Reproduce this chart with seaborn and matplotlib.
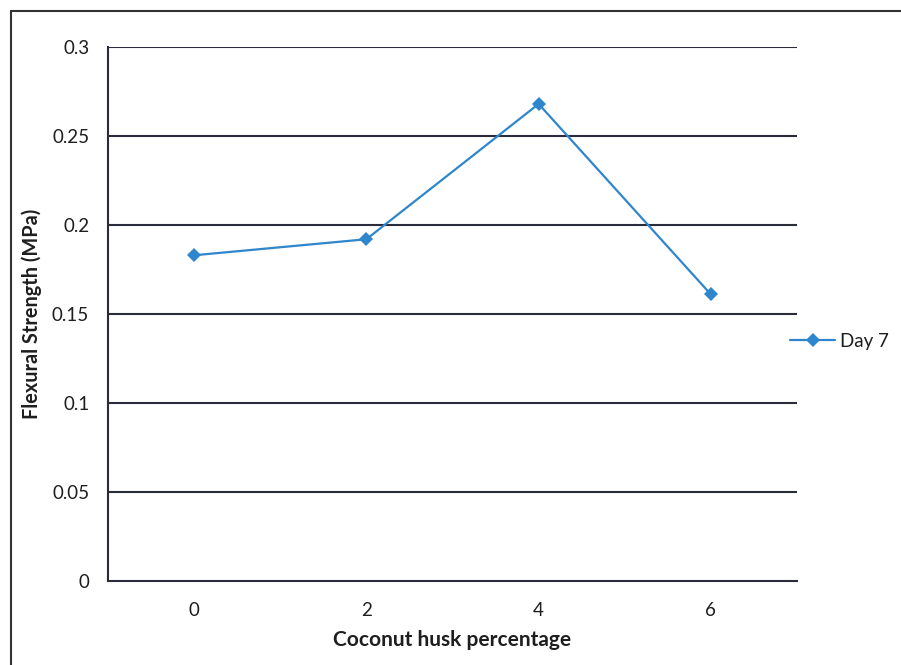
import matplotlib
matplotlib.use("Agg")
import matplotlib.pyplot as plt
from matplotlib.patches import Rectangle
from matplotlib.ticker import FixedLocator
import seaborn as sns
import pandas as pd

# Flexural strength after 7 days for each coconut husk content
husk_percent = ["0", "2", "4", "6"]
strength_day7 = [0.183, 0.192, 0.268, 0.161]
series_name = "Day 7"
y_ticks = [0, 0.05, 0.1, 0.15, 0.2, 0.25, 0.3]
y_tick_labels = ["0", "0.05", "0.1", "0.15", "0.2", "0.25", "0.3"]

df = pd.DataFrame({"husk": husk_percent, "strength": strength_day7, "series": series_name})

sns.set_theme(style="white")
plt.rcParams["font.family"] = ["Lato", "DejaVu Sans"]

grid_color = "#2a2c3c"
line_color = "#2f86cc"
text_color = "#1e1e1e"

fig = plt.figure(figsize=(9.01, 6.65), dpi=100)
ax = fig.add_axes([108 / 901, 1 - 581 / 665, (797 - 108) / 901, (581 - 47) / 665])

sns.lineplot(data=df, x="husk", y="strength", hue="series", palette=[line_color],
             marker="D", markersize=7, markeredgewidth=0, linewidth=1.6,
             sort=False, ax=ax, zorder=3)

ax.set_xlim(-0.5, 3.5)
ax.set_ylim(0, 0.3)
ax.set_yticks(y_ticks)
ax.set_yticklabels(y_tick_labels)
ax.set_xticks(range(len(husk_percent)))
ax.set_xticklabels(husk_percent)
ax.xaxis.set_minor_locator(FixedLocator([-0.5, 0.5, 1.5, 2.5, 3.5]))

ax.tick_params(axis="x", which="major", length=0, pad=15, labelsize=13.5, colors=text_color)
ax.tick_params(axis="x", which="minor", length=5, width=1.2, color=grid_color, direction="out")
ax.tick_params(axis="y", which="major", length=5.5, width=1.2, color=grid_color,
               direction="out", pad=8, labelsize=13.5, labelcolor=text_color)

for y in y_ticks[1:]:
    ax.axhline(y, color=grid_color, linewidth=1.5, zorder=1)

for side in ["top", "right"]:
    ax.spines[side].set_visible(False)
for side in ["left", "bottom"]:
    ax.spines[side].set_color(grid_color)
    ax.spines[side].set_linewidth(1.5)

ax.set_xlabel("Coconut husk percentage", fontsize=15, fontweight="bold",
              color=text_color, labelpad=8)
ax.set_ylabel("Flexural Strength (MPa)", fontsize=14.3, fontweight="bold",
              color=text_color)
ax.yaxis.set_label_coords(-0.0958, 0.5)

leg = ax.legend(loc="center left", bbox_to_anchor=(781 / 901, 1 - 341 / 665),
                bbox_transform=fig.transFigure, frameon=False, borderpad=0,
                handlelength=2.4, handletextpad=0.25, fontsize=13.5)
for t in leg.get_texts():
    t.set_color(text_color)

# Outer chart frame
fig.patches.append(Rectangle((11 / 901, -0.05), 1.2, 1 - 11 / 665 + 0.05,
                             transform=fig.transFigure, fill=False,
                             edgecolor="#333333", linewidth=1.5))

fig.savefig("out.png", dpi=100)
